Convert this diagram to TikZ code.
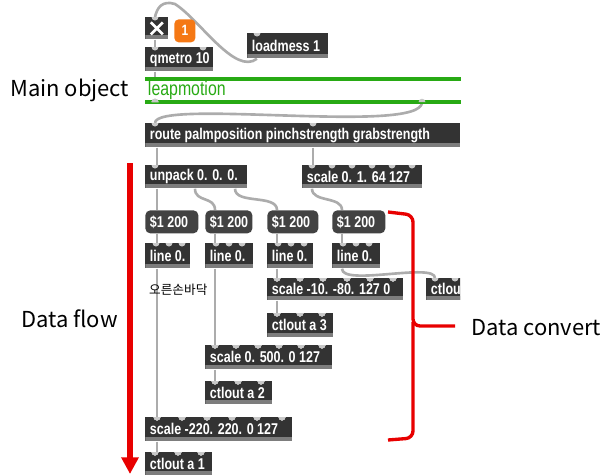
\documentclass[tikz,border=0pt]{standalone}
\usepackage{fontspec}
\setmainfont{Noto Sans CJK KR}
\newfontfamily\maxfont{Liberation Sans}[FakeStretch=0.8]
\newfontfamily\notefont{Noto Sans CJK KR}
\usepackage{tikz}
\usetikzlibrary{arrows.meta, positioning, calc, backgrounds}

\definecolor{maxbox}{RGB}{51,51,51}
\definecolor{maxmsgfill}{RGB}{66,66,66}
\definecolor{maxedge}{RGB}{125,125,125}
\definecolor{maxport}{RGB}{200,200,200}
\definecolor{maxcord}{RGB}{172,172,172}
\definecolor{leapgreen}{RGB}{40,170,20}
\definecolor{flagorange}{RGB}{245,120,20}
\definecolor{markred}{RGB}{232,0,0}

\newcommand{\mpx}{0.02cm}
% inlet bumps along the top of a box
\newcommand{\maxinlets}[2]{%
	\foreach \d in {#2}
		\fill[maxport] ($(#1.north west)+(\d-3.5,0)$)
			arc[start angle=180, end angle=360, radius=3.5*\mpx] -- cycle;
}

\tikzset{
	maxtext/.style={
		text=white,
		font={\maxfont\bfseries\fontsize{8.9}{10}\selectfont},
		anchor=west,
		inner xsep=2.6pt
	},
	maxobj/.style 2 args={
		fill=maxbox,
		anchor=north west,
		inner sep=0pt,
		minimum height=24*\mpx,
		minimum width=#1*\mpx,
		label={[maxtext]west:#2},
		path picture={
			\fill[maxedge] ([yshift=2.2pt]path picture bounding box.south west)
				rectangle (path picture bounding box.south east);
		}
	},
	maxmsg/.style 2 args={
		fill=maxmsgfill,
		rounded corners=2.8pt,
		anchor=north west,
		inner sep=0pt,
		minimum height=23*\mpx,
		minimum width=#1*\mpx,
		label={[maxtext]west:#2}
	},
	cord/.style={
		draw=maxcord,
		line width=1.5pt
	},
	sidelabel/.style={
		anchor=west,
		font={\fontsize{12.5}{14}\selectfont}
	}
}

\begin{document}
\begin{tikzpicture}[x=\mpx, y=-\mpx]
	\useasboundingbox (0,0) rectangle (606,474);

	% Toggle und Zahl
	\node[maxobj={23}{}, minimum height=22*\mpx] (toggle) at (145,17) {};
	\draw[
		white,
		line width=1.5pt
	] ($(toggle.center)+(-6,-6)$) -- ($(toggle.center)+(6,6)$)
		($(toggle.center)+(-6,6)$) -- ($(toggle.center)+(6,-6)$);
	\node[
		fill=flagorange,
		rounded corners=2.5pt,
		anchor=north west,
		minimum width=21*\mpx,
		minimum height=23*\mpx,
		inner sep=0pt,
		text=white,
		font={\maxfont\bfseries\fontsize{8.5}{9}\selectfont}
	] (flag) at (174,19) {1};

	% Objekte oben
	\node[maxobj={68}{qmetro 10}] (qmetro) at (145,47) {};
	\node[maxobj={81}{loadmess 1}, minimum height=25*\mpx] (loadmess) at (247,33) {};
	\node[
		anchor=north west,
		minimum width=315*\mpx,
		minimum height=22.5*\mpx,
		inner sep=0pt
	] (leap) at (145,79) {};
	\node[
		anchor=west,
		text=leapgreen,
		font={\maxfont\fontsize{11.3}{12}\selectfont},
		inner xsep=1.5pt
	] (leaptext) at (leap.west) {leapmotion};
	\draw[
		leapgreen,
		line width=2.3pt
	] (leap.north west) -- (leap.north east)
		(leap.south west) -- (leap.south east);
	\node[maxobj={315}{route palmposition pinchstrength grabstrength}] (route) at (145,123) {};

	% Entpacken
	\node[maxobj={102}{unpack 0. 0. 0.}, minimum height=23*\mpx] (unpack) at (145,165) {};
	\node[maxobj={120}{scale 0. 1. 64 127}, minimum height=23*\mpx] (scalepinch) at (302,165) {};

	% Nachrichten
	\node[maxmsg={53}{\$1 200}] (msgA) at (145,210) {};
	\node[maxmsg={47}{\$1 200}] (msgB) at (205,210) {};
	\node[maxmsg={51}{\$1 200}] (msgC) at (267,210) {};
	\node[maxmsg={53}{\$1 200}] (msgD) at (332,210) {};

	% line
	\node[maxobj={45}{line 0.}, minimum height=25*\mpx] (lineA) at (145,243) {};
	\node[maxobj={48}{line 0.}, minimum height=25*\mpx] (lineB) at (205,243) {};
	\node[maxobj={46}{line 0.}, minimum height=25*\mpx] (lineC) at (267,243) {};
	\node[maxobj={48}{line 0.}, minimum height=25*\mpx] (lineD) at (332,243) {};

	% Skalierung und Ausgabe
	\node[maxobj={136}{scale -10. -80. 127 0}, minimum height=22*\mpx] (scaleC) at (267,278) {};
	\begin{scope}
		\clip (0,0) rectangle (460,474);
		\node[maxobj={50}{ctlout}, minimum height=22*\mpx] (ctloutD) at (426,278) {};
		\maxinlets{ctloutD}{9,29}
	\end{scope}
	\node[maxobj={66}{ctlout a 3}] (ctloutC) at (267,313) {};
	\node[maxobj={127}{scale 0. 500. 0 127}] (scaleB) at (205,345) {};
	\node[maxobj={67}{ctlout a 2}, minimum height=23*\mpx] (ctloutB) at (205,381) {};
	\node[maxobj={147}{scale -220. 220. 0 127}] (scaleA) at (145,417) {};
	\node[maxobj={67}{ctlout a 1}, minimum height=23*\mpx] (ctloutA) at (145,452) {};
	\node[
		anchor=west,
		font={\notefont\fontsize{7.2}{8}\selectfont}
	] (palmnote) at (143,290) {오른손바닥};

	% Eingaenge
	\maxinlets{toggle}{10}
	\maxinlets{qmetro}{10,58}
	\maxinlets{loadmess}{10}
	\maxinlets{route}{10,168}
	\maxinlets{unpack}{10}
	\maxinlets{scalepinch}{10,30,50,70,90,110}
	\foreach \n in {lineA,lineB,lineC,lineD}
		\maxinlets{\n}{11,24,37}
	\maxinlets{scaleC}{10,33,56,80,103,126}
	\maxinlets{ctloutC}{10,33,55}
	\maxinlets{scaleB}{10,31,53,74,96,117}
	\maxinlets{ctloutB}{10,33,56}
	\maxinlets{scaleA}{12,37,62,87,112,137}
	\maxinlets{ctloutA}{10,33,56}
	\fill[maxport] ($(leap.south west)+(6.5,0)$) arc[start angle=180, end angle=0, radius=3.5*\mpx] -- cycle;
	\fill[maxport] ($(leap.south west)+(273.5,0)$) arc[start angle=180, end angle=0, radius=3.5*\mpx] -- cycle;

	% Verbindungen
	\begin{pgfonlayer}{background}
		\draw[cord] ($(loadmess.south west)+(10,0)$) .. controls +(-22,17) and (200,20) .. (175,4)
			.. controls (162,0) and (157,8) .. ($(toggle.north west)+(10,0)$);
		\draw[cord] ($(toggle.south west)+(10,0)$) -- ($(qmetro.north west)+(10,0)$);
		\draw[cord] ($(qmetro.south west)+(10,0)$) -- ($(leap.north west)+(10,0)$);
		\draw[cord] ($(leap.south west)+(277,0)$) .. controls +(0,33) and +(0,-25) .. ($(route.north west)+(10,0)$);
		\draw[cord] ($(route.south west)+(12,0)$) -- ($(unpack.north west)+(12,0)$);
		\draw[cord] ($(route.south west)+(168,0)$) -- ($(scalepinch.north west)+(11,0)$);
		\draw[cord] ($(unpack.south west)+(12,0)$) -- ($(msgA.north west)+(12,0)$);
		\draw[cord] ($(unpack.south west)+(50,0)$) .. controls +(0,14) and +(0,-14) .. ($(msgB.north west)+(10,0)$);
		\draw[cord] ($(unpack.south west)+(90,0)$) .. controls +(0,16) and +(0,-16) .. ($(msgC.north west)+(10,0)$);
		\draw[cord] ($(scalepinch.south west)+(10,0)$) .. controls +(0,14) and +(0,-14) .. ($(msgD.north west)+(10,0)$);
		\draw[cord] ($(msgA.south west)+(12,0)$) -- ($(lineA.north west)+(12,0)$);
		\draw[cord] ($(msgB.south west)+(10,0)$) -- ($(lineB.north west)+(10,0)$);
		\draw[cord] ($(msgC.south west)+(10,0)$) -- ($(lineC.north west)+(10,0)$);
		\draw[cord] ($(msgD.south west)+(10,0)$) -- ($(lineD.north west)+(10,0)$);
		\draw[cord] ($(lineA.south west)+(12,0)$) -- ($(scaleA.north west)+(12,0)$);
		\draw[cord] ($(lineB.south west)+(10,0)$) -- ($(scaleB.north west)+(10,0)$);
		\draw[cord] ($(lineC.south west)+(10,0)$) -- ($(scaleC.north west)+(10,0)$);
		\draw[cord] ($(lineD.south west)+(10,0)$) .. controls +(0,18) and +(0,-16) .. ($(ctloutD.north west)+(9,0)$);
		\draw[cord] ($(scaleC.south west)+(10,0)$) -- ($(ctloutC.north west)+(10,0)$);
		\draw[cord] ($(scaleB.south west)+(10,0)$) -- ($(ctloutB.north west)+(10,0)$);
		\draw[cord] ($(scaleA.south west)+(12,0)$) -- ($(ctloutA.north west)+(12,0)$);
	\end{pgfonlayer}

	% Beschriftung
	\node[sidelabel] (mainlabel) at (4,90) {Main object};
	\node[sidelabel] (flowlabel) at (15,319) {Data flow};
	\node[sidelabel] (convertlabel) at (465,328) {Data convert};

	% Datenfluss-Pfeil
	\coordinate (flowtop) at (130,163);
	\coordinate (flowend) at (130,474);
	\draw[
		markred,
		line width=3.4pt,
		-{Triangle[length=9.5pt, width=9.5pt]}
	] (flowtop) -- (flowend);

	% Klammer
	\draw[
		markred,
		line width=1.9pt,
		rounded corners=4pt
	] (388,212) -- (413,215) -- (413,326) -- (455,326);
	\draw[
		markred,
		line width=1.9pt,
		rounded corners=4pt
	] (413,322) -- (413,438) -- (388,440);
\end{tikzpicture}
\end{document}
